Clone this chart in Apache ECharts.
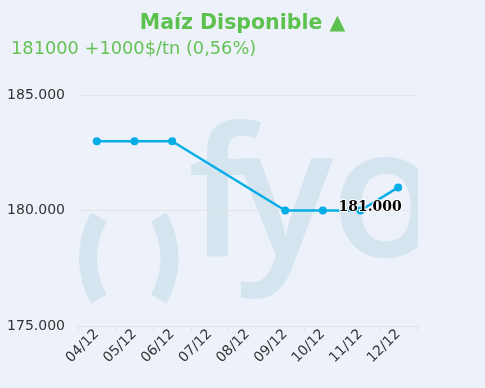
<!DOCTYPE html>
<html><head><meta charset="utf-8">
<script src="https://cdn.jsdelivr.net/npm/echarts@6/dist/echarts.min.js"></script>
<style>html,body{margin:0;padding:0;background:#edf1f9;}#c{width:485px;height:388px;}</style>
</head><body><div id="c"></div>
<script>
const categories = ['04/12','05/12','06/12','07/12','08/12','09/12','10/12','11/12','12/12'];
const values = [183000,183000,183000,null,null,180000,180000,180000,181000];
const titleText = 'Maíz Disponible ▲';
const subtitleText = '181000 +1000$/tn (0,56%)';
const lastLabel = '181.000';

const fmt = v => String(v).replace(/\B(?=(\d{3})+(?!\d))/g, '.');
const wm = 'rgb(213,229,240)';
const data = values.map((v,i) => i === values.length-1 ? {value:v, label:{show:true, formatter:lastLabel, position:'inside', offset:[-28,20], fontFamily:'DejaVu Serif', fontWeight:'bold', fontSize:14, color:'#000', textBorderColor:'#fff', textBorderWidth:2}} : v);
const D = Math.PI/180;

const chart = echarts.init(document.getElementById('c'));
chart.setOption({
  backgroundColor:'#edf1f9',
  animation:false,
  title:[
    {text:titleText, left:'center', top:13, padding:0, textStyle:{fontFamily:'DejaVu Sans', fontWeight:'bold', fontSize:20.5, color:'#5dc150'}},
    {text:subtitleText, left:11, top:40, padding:0, textStyle:{fontFamily:'DejaVu Sans', fontWeight:'normal', fontSize:17.8, color:'#66c257'}}
  ],
  graphic:{elements:[
    {type:'sector', z:-5, shape:{cx:170, cy:258, r0:73, r:91, startAngle:150*D, endAngle:210*D}, style:{fill:wm}},
    {type:'sector', z:-5, shape:{cx:87.5, cy:258, r0:73, r:91, startAngle:-30*D, endAngle:30*D}, style:{fill:wm}},
    {type:'text', z:-5, x:188, y:115, style:{text:'f', font:'600 180px "Open Sans"', fill:wm}},
    {type:'text', z:-5, x:237, y:115, style:{text:'y', font:'600 180px "Open Sans"', fill:wm}},
    {type:'text', z:-5, x:331, y:115, style:{text:'o', font:'600 180px "Open Sans"', fill:wm}},
    {type:'rect', z:-4, shape:{x:418, y:100, width:67, height:215}, style:{fill:'#edf1f9'}}
  ]},
  grid:{left:78, right:68, top:95, bottom:62},
  xAxis:{type:'category', data:categories, boundaryGap:true,
    axisLine:{lineStyle:{color:'#e3e3e3'}},
    axisTick:{show:true, length:5, lineStyle:{color:'#e3e3e3'}},
    axisLabel:{rotate:45, fontFamily:'DejaVu Sans', fontSize:14, color:'#333', margin:6, interval:0}},
  yAxis:{type:'value', min:175000, max:185000, interval:5000,
    axisLine:{show:false}, axisTick:{show:false},
    splitLine:{lineStyle:{color:'#e3e3e3'}},
    axisLabel:{formatter:fmt, fontFamily:'DejaVu Sans', fontSize:14, color:'#333', margin:13}},
  series:[{type:'line', data:data, connectNulls:true, symbol:'circle', symbolSize:8,
    lineStyle:{color:'#05ade6', width:2.5}, itemStyle:{color:'#05ade6'}, z:3}]
});
</script></body></html>
